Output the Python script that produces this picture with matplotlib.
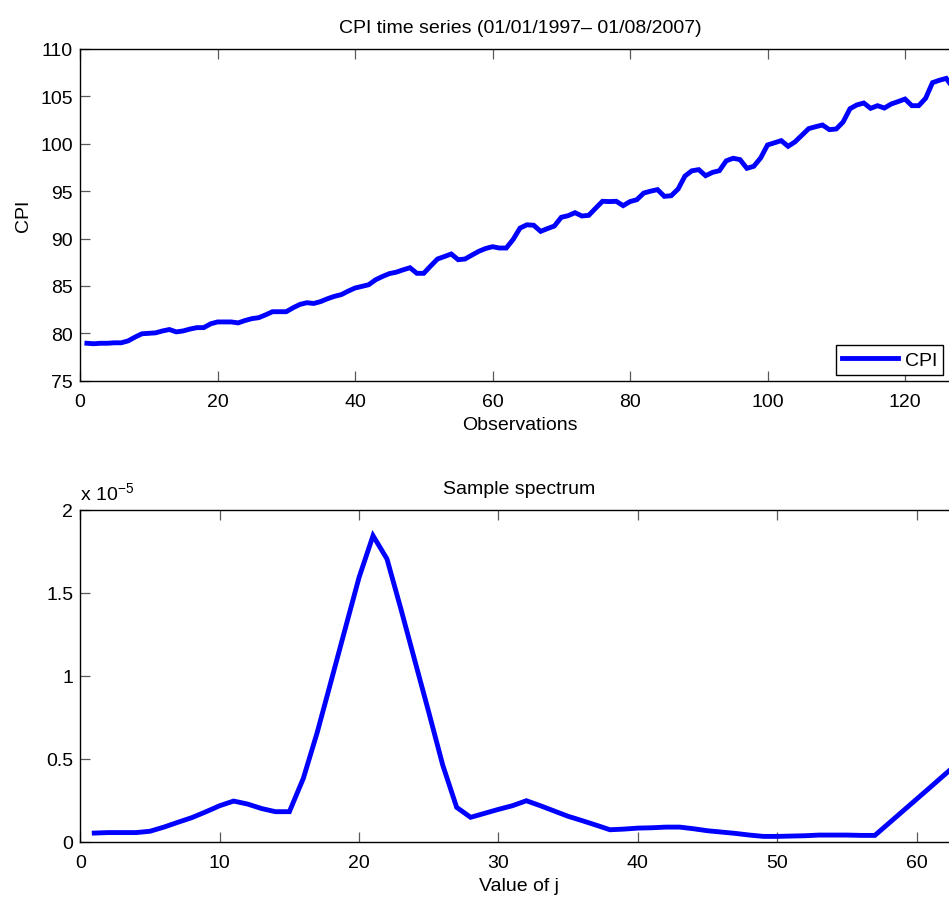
import numpy as np
import matplotlib
matplotlib.use('Agg')
import matplotlib.pyplot as plt
from matplotlib.ticker import FormatStrFormatter

plt.rcParams['font.family'] = ['Liberation Sans', 'DejaVu Sans']
plt.rcParams['mathtext.fontset'] = 'custom'
plt.rcParams['mathtext.rm'] = 'Liberation Sans'
plt.rcParams['mathtext.it'] = 'Liberation Sans:italic'

# Serie mensual del IPC (enero 1997 en adelante)
cpi = [78.95, 78.90, 78.95, 78.95, 79.00, 79.00, 79.20, 79.60, 79.95, 80.00,
       80.05, 80.25, 80.40, 80.15, 80.25, 80.45, 80.60, 80.60, 81.00, 81.20,
       81.20, 81.20, 81.10, 81.35, 81.55, 81.65, 81.95, 82.28, 82.28, 82.28,
       82.70, 83.05, 83.23, 83.15, 83.35, 83.65, 83.90, 84.08, 84.45, 84.78,
       84.95, 85.13, 85.65, 86.00, 86.30, 86.45, 86.70, 86.92, 86.33, 86.33,
       87.10, 87.84, 88.10, 88.37, 87.77, 87.84, 88.25, 88.65, 88.95, 89.14,
       89.00, 89.00, 89.90, 91.10, 91.45, 91.40, 90.76, 91.05, 91.32, 92.24,
       92.41, 92.73, 92.38, 92.45, 93.20, 93.93, 93.90, 93.93, 93.47, 93.90,
       94.10, 94.80, 95.00, 95.16, 94.45, 94.52, 95.23, 96.60, 97.15, 97.27,
       96.63, 96.98, 97.16, 98.20, 98.47, 98.33, 97.41, 97.62, 98.50, 99.87,
       100.10, 100.33, 99.73, 100.20, 100.90, 101.60, 101.80, 101.98, 101.49, 101.56,
       102.30, 103.70, 104.10, 104.30, 103.74, 104.02, 103.77, 104.20, 104.45, 104.72,
       104.02, 104.02, 104.80, 106.45, 106.70, 106.90, 105.90]
obs = np.arange(1, len(cpi) + 1)

# Espectro muestral (en unidades de 1e-5)
spec = [0.052, 0.055, 0.055, 0.055, 0.063, 0.088, 0.117, 0.145, 0.180, 0.217,
        0.245, 0.227, 0.200, 0.181, 0.181, 0.382, 0.660, 0.971, 1.283, 1.594,
        1.845, 1.705, 1.403, 1.091, 0.780, 0.462, 0.207, 0.147, 0.171, 0.195,
        0.217, 0.247, 0.217, 0.185, 0.153, 0.127, 0.100, 0.072, 0.076, 0.082,
        0.084, 0.088, 0.088, 0.078, 0.066, 0.058, 0.050, 0.040, 0.032, 0.032,
        0.034, 0.036, 0.040, 0.040, 0.040, 0.038, 0.038, 0.111, 0.184, 0.257,
        0.330, 0.404, 0.477, 0.550]
j = np.arange(1, len(spec) + 1)

W, H = 949, 903
fig = plt.figure(figsize=(W / 100, H / 100), dpi=100)

def axes_px(left, right, top, bottom):
    return fig.add_axes([left / W, 1 - bottom / H, (right - left) / W, (bottom - top) / H])

def estilo(ax):
    for s in ax.spines.values():
        s.set_linewidth(1.0)
        s.set_color('black')
    ax.tick_params(direction='in', length=7, width=0.9, color='0.35',
                   labelsize=14, top=True, right=True)
    ax.tick_params(axis='x', pad=9)
    ax.tick_params(axis='y', pad=5)

# Serie temporal
ax1 = axes_px(80, 960, 50, 381.7)
ax1.plot(obs, cpi, color='blue', lw=3.5, label='CPI', solid_joinstyle='miter')
ax1.set_xlim(0, 128)
ax1.set_ylim(75, 110)
ax1.set_xticks(np.arange(0, 121, 20))
ax1.set_yticks(np.arange(75, 111, 5))
estilo(ax1)
ax1.set_title('CPI time series (01/01/1997\u2013 01/08/2007)', fontsize=14, pad=12)
ax1.set_xlabel('Observations', fontsize=14, labelpad=4)
ax1.set_ylabel('CPI', fontsize=14, labelpad=6)
leg = ax1.legend(loc='lower right', bbox_to_anchor=(943.3 / W, 1 - 375.7 / H),
                 bbox_transform=fig.transFigure, borderaxespad=0,
                 fontsize=14, handlelength=2.9, handletextpad=0.35,
                 borderpad=0.3, fancybox=False, framealpha=1)
leg.get_frame().set_edgecolor('black')
leg.get_frame().set_linewidth(1.0)

# Espectro
ax2 = axes_px(80.3, 958.5, 511, 842.7)
ax2.plot(j, spec, color='blue', lw=3.5, solid_joinstyle='miter')
ax2.set_xlim(0, 63)
ax2.set_ylim(0, 2)
ax2.set_xticks(np.arange(0, 61, 10))
ax2.set_yticks([0, 0.5, 1, 1.5, 2])
ax2.yaxis.set_major_formatter(FormatStrFormatter('%g'))
estilo(ax2)
ax2.set_title('Sample spectrum', fontsize=14, pad=12)
ax2.set_xlabel('Value of j', fontsize=14, labelpad=4)
ax2.text(0, 1.033, r'x 10$^{-5}$', transform=ax2.transAxes, fontsize=14,
         ha='left', va='baseline')

fig.savefig('out.png', dpi=100)
